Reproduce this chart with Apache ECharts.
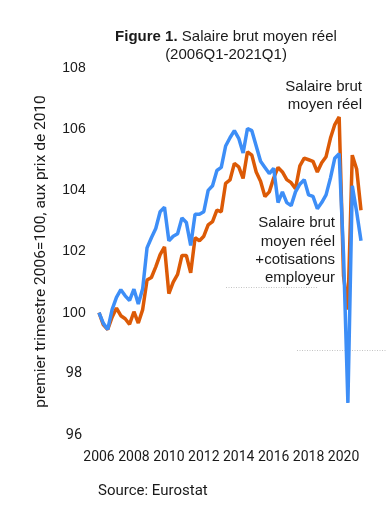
<!DOCTYPE html>
<html><head><meta charset="utf-8">
<script src="https://cdn.jsdelivr.net/npm/echarts@6/dist/echarts.min.js"></script>
<style>html,body{margin:0;padding:0;background:#fff}#c{width:386px;height:522px}</style>
</head><body><div id="c"></div>
<script>
const years = ['2006','2007','2008','2009','2010','2011','2012','2013','2014','2015','2016','2017','2018','2019','2020','2021'];
const categories = [];
years.forEach(y => ['Q1','Q2','Q3','Q4'].forEach(q => { if (categories.length < 61) categories.push(y + q); }));
const yearTicks = ['2006','2008','2010','2012','2014','2016','2018','2020'];
const yTicks = [96, 98, 100, 102, 104, 106, 108];

const salaireBrut = [
 100.0, 99.6, 99.45, 99.85, 100.15, 99.9, 99.8, 99.62, 100.03, 99.66,
 100.1, 101.07, 101.15, 101.5, 101.9, 102.15, 100.62, 101.0, 101.25, 101.87,
 101.87, 101.3, 102.45, 102.35, 102.5, 102.87, 102.98, 103.35, 103.3, 104.23,
 104.34, 104.88, 104.77, 104.39, 105.26, 105.15, 104.6, 104.3, 103.8, 103.95,
 104.4, 104.75, 104.6, 104.35, 104.25, 104.05, 104.8, 105.05, 105.0, 104.95,
 104.6, 104.9, 105.1, 105.7, 106.15, 106.4, 101.2, 100.1, 105.15, 104.7,
 103.35];
const salaireCotisations = [
 100.0, 99.65, 99.45, 100.1, 100.5, 100.75, 100.55, 100.4, 100.77, 100.28,
 100.78, 102.12, 102.45, 102.75, 103.3, 103.45, 102.35, 102.5, 102.58, 103.1,
 102.95, 102.2, 103.22, 103.22, 103.3, 104.0, 104.15, 104.65, 104.75, 105.45,
 105.72, 105.95, 105.7, 105.22, 106.02, 105.95, 105.45, 104.95, 104.75, 104.55,
 104.72, 103.6, 103.95, 103.6, 103.5, 103.95, 104.2, 104.35, 103.85, 103.8,
 103.4, 103.6, 103.85, 104.4, 105.05, 105.2, 101.9, 97.05, 104.15, 103.3,
 102.35];

const HELV = 'Liberation Sans';
const COND = 'Roboto';
const TXT = '#1a1a1a';

const chart = echarts.init(document.getElementById('c'), null, {renderer:'canvas'});
chart.setOption({
  animation: false,
  backgroundColor: '#fff',
  grid: {left: 99, top: 68, width: 262, height: 367, containLabel: false},
  xAxis: {
    type: 'category', data: categories, boundaryGap: false,
    axisLine: {show: false}, axisTick: {show: false}, splitLine: {show: false},
    axisLabel: {
      interval: (i, v) => yearTicks.includes(v.slice(0,4)) && v.endsWith('Q1'),
      formatter: v => v.slice(0,4), hideOverlap: false,
      margin: 15, color: TXT, fontSize: 14, fontFamily: COND
    }
  },
  yAxis: {
    type: 'value', min: 96, max: 108, interval: 2,
    axisLine: {show: false}, axisTick: {show: false}, splitLine: {show: false},
    name: 'premier trimestre 2006=100, aux prix de 2010',
    nameLocation: 'middle', nameRotate: 90, nameGap: 50,
    nameTextStyle: {color: TXT, fontSize: 15.5, fontFamily: COND},
    axisLabel: {
      align: 'center', margin: 25, color: TXT,
      formatter: v => yTicks.includes(v) ? (v >= 100 ? '{a|' + v + '}' : '{b|' + v + '}') : '',
      rich: {a: {fontFamily: HELV, fontSize: 14, color: TXT}, b: {fontFamily: COND, fontSize: 14.5, color: TXT}}
    }
  },
  series: [
    {name: 'Salaire brut moyen réel', type: 'line', data: salaireBrut, showSymbol: false,
     lineStyle: {color: '#dc5a06', width: 3.5}, itemStyle: {color: '#dc5a06'}, z: 2},
    {name: 'Salaire brut moyen réel +cotisations employeur', type: 'line', data: salaireCotisations, showSymbol: false,
     lineStyle: {color: '#3d8ef7', width: 3.5}, itemStyle: {color: '#3d8ef7'}, z: 3}
  ],
  graphic: [
    {type: 'text', x: 226, y: 37, style: {text: '{b|Figure 1.} Salaire brut moyen réel', align: 'center', verticalAlign: 'middle',
      fontSize: 15, fontFamily: HELV, fill: TXT, rich: {b: {fontWeight: 'bold', fontSize: 15, fontFamily: HELV, fill: TXT}}}},
    {type: 'text', x: 226, y: 55, style: {text: '(2006Q1-2021Q1)', align: 'center', verticalAlign: 'middle',
      fontSize: 15, fontFamily: HELV, fill: TXT}},
    {type: 'text', x: 362, y: 78, style: {text: 'Salaire brut\nmoyen réel', align: 'right', verticalAlign: 'top',
      lineHeight: 18, fontSize: 15, fontFamily: HELV, fill: TXT}},
    {type: 'text', x: 335, y: 214, style: {text: 'Salaire brut\nmoyen réel\n+cotisations\nemployeur', align: 'right', verticalAlign: 'top',
      lineHeight: 18.3, fontSize: 15, fontFamily: HELV, fill: TXT}},
    {type: 'line', shape: {x1: 226, y1: 287.5, x2: 317, y2: 287.5}, style: {stroke: '#c4c4c4', lineWidth: 1, lineDash: [1, 1.5]}},
    {type: 'line', shape: {x1: 297, y1: 350.5, x2: 386, y2: 350.5}, style: {stroke: '#c4c4c4', lineWidth: 1, lineDash: [1, 1.5]}},
    {type: 'text', x: 98, y: 491, style: {text: 'Source: Eurostat', align: 'left', verticalAlign: 'middle',
      fontSize: 15, fontFamily: COND, fill: TXT}}
  ]
});
</script></body></html>
